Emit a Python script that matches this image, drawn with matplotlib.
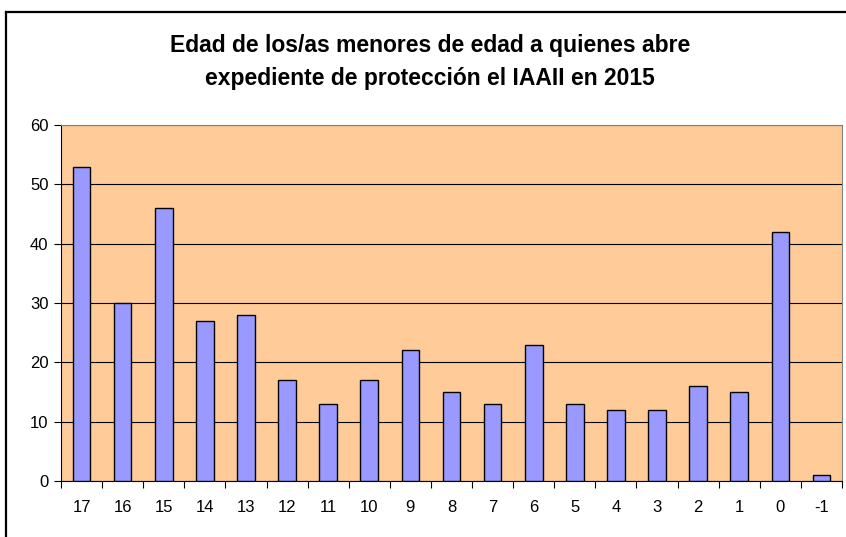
import matplotlib
matplotlib.use("Agg")
import matplotlib.pyplot as plt
from matplotlib.lines import Line2D
import numpy as np

plt.rcParams['font.family'] = ['Liberation Sans', 'DejaVu Sans']

categories = ["17", "16", "15", "14", "13", "12", "11", "10", "9", "8", "7", "6",
              "5", "4", "3", "2", "1", "0", "-1"]
values = [53, 30, 46, 27, 28, 17, 13, 17, 22, 15, 13, 23, 13, 12, 12, 16, 15, 42, 1]
yticks = [0, 10, 20, 30, 40, 50, 60]
title = "Edad de los/as menores de edad a quienes abre\nexpediente de protección el IAAII en 2015"

W, H = 846, 537
fig = plt.figure(figsize=(W / 100, H / 100), dpi=100)
fig.patch.set_facecolor("white")

# outer chart border (top and left visible; others cut off)
fig.add_artist(Line2D([6 / W, 6 / W], [0, 1 - 12 / H], transform=fig.transFigure,
                      color="black", lw=1.6))
fig.add_artist(Line2D([6 / W, 1], [1 - 12 / H, 1 - 12 / H], transform=fig.transFigure,
                      color="black", lw=1.6))

left, right, top, bottom = 61, 842, 125, 481
ax = fig.add_axes([left / W, 1 - bottom / H, (right - left) / W, (bottom - top) / H])
ax.set_facecolor("#FFCC99")

x = np.arange(len(categories))
ax.bar(x, values, width=0.43, color="#9999FF", edgecolor="black", linewidth=1.0, zorder=3)

ax.set_xlim(-0.5, len(categories) - 0.5)
ax.set_ylim(0, 60)
ax.set_yticks(yticks)
ax.set_yticklabels([str(v) for v in yticks], fontsize=12)
ax.set_xticks(x)
ax.set_xticklabels(categories, fontsize=12)
ax.tick_params(axis="x", which="major", length=0, pad=14)
ax.set_xticks(np.arange(-0.5, len(categories), 1.0), minor=True)
ax.tick_params(axis="x", which="minor", length=5, width=0.8, direction="out", color="black")
ax.tick_params(axis="y", length=5, width=0.8, direction="out", pad=4)

ax.yaxis.grid(True, color="black", linewidth=0.8, zorder=1)
ax.set_axisbelow(True)

ax.spines["left"].set_color("black")
ax.spines["bottom"].set_color("black")
ax.spines["top"].set_color("#808080")
ax.spines["right"].set_color("#808080")
for s in ax.spines.values():
    s.set_linewidth(0.8)

fig.text(430 / W, 1 - 62 / H, title, ha="center", va="center", fontsize=16.5,
         fontweight="bold", linespacing=1.55)

fig.savefig("out.png", dpi=100)
